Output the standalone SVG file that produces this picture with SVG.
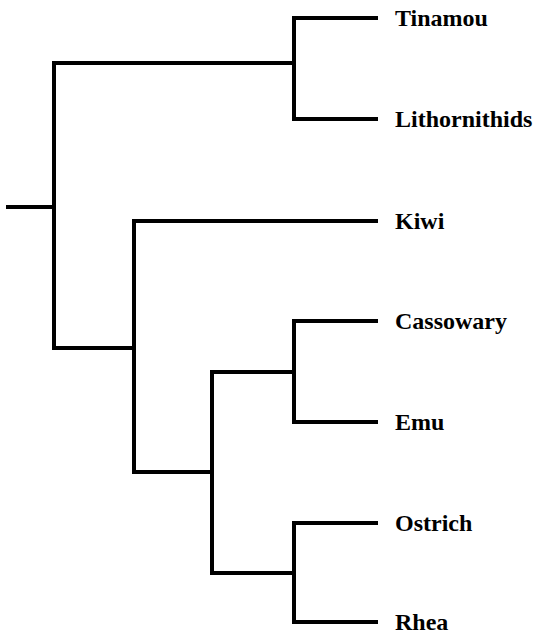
<svg xmlns="http://www.w3.org/2000/svg" width="535" height="635" viewBox="0 0 535 635">
<style>
.e{fill:none;stroke:#000;stroke-width:4;stroke-linejoin:miter;stroke-linecap:square}
.t{font-family:"Liberation Serif","Times New Roman",serif;font-weight:bold;font-size:24px;fill:#000}
</style>
<rect width="535" height="635" fill="#fff"/>
<g id="connectors">
<path class="e" d="M8 207H54"/>
<path class="e" d="M376 18H294V119H376"/>
<path class="e" d="M294 63H54V348H134"/>
<path class="e" d="M376 221H134V472H212"/>
<path class="e" d="M376 321H294V422H376"/>
<path class="e" d="M294 372H212V573H294"/>
<path class="e" d="M376 523H294V622H376"/>
</g>
<g id="tinamou"><text class="t" x="395" y="26">Tinamou</text></g>
<g id="lithornithids"><text class="t" x="395" y="127">Lithornithids</text></g>
<g id="kiwi"><text class="t" x="395" y="229">Kiwi</text></g>
<g id="cassowary"><text class="t" x="395" y="329">Cassowary</text></g>
<g id="emu"><text class="t" x="395" y="430">Emu</text></g>
<g id="ostrich"><text class="t" x="395" y="531">Ostrich</text></g>
<g id="rhea"><text class="t" x="395" y="630">Rhea</text></g>
</svg>
